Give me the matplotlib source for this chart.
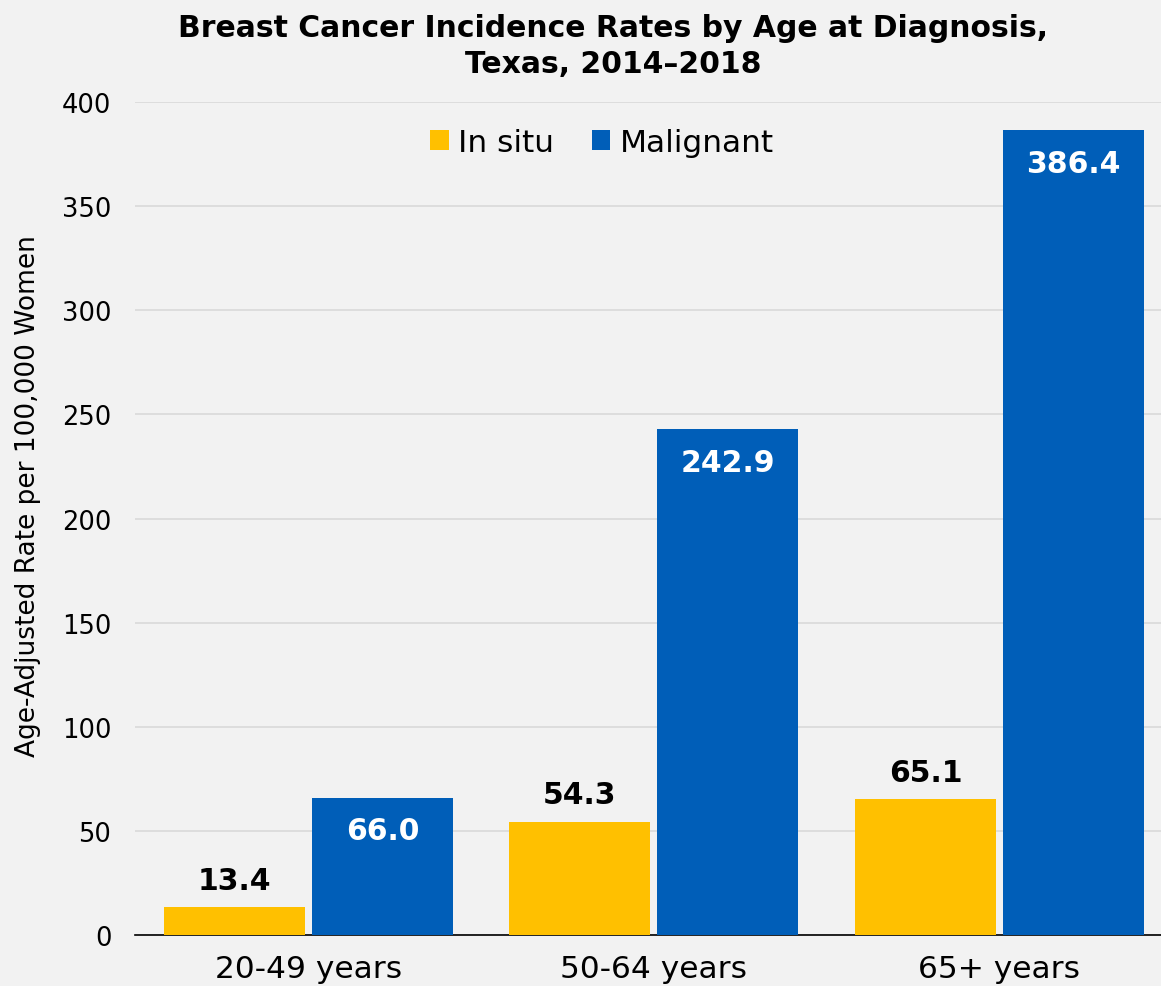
import matplotlib
matplotlib.use("Agg")
from matplotlib import pyplot as plt
import numpy as np

categories = ["20-49 years", "50-64 years", "65+ years"]
in_situ = [13.4, 54.3, 65.1]
malignant = [66.0, 242.9, 386.4]
series_names = ["In situ", "Malignant"]

yellow = "#FFC000"
blue = "#005EB8"
bg = "#F2F2F2"

plt.rcParams["font.family"] = "DejaVu Sans"

fig = plt.figure(figsize=(11.61, 9.87), dpi=100, facecolor=bg)
ax = fig.add_axes([0.1163, 0.0517, 0.8837, 0.8439], facecolor=bg)

x = np.arange(len(categories))
width = 0.408
offset = 0.214
b1 = ax.bar(x - offset, in_situ, width, color=yellow, label=series_names[0], zorder=3)
b2 = ax.bar(x + offset, malignant, width, color=blue, label=series_names[1], zorder=3)

for rect, v in zip(b1, in_situ):
    ax.text(rect.get_x() + rect.get_width() / 2, v + 6, f"{v:.1f}",
            ha="center", va="bottom", fontsize=21.5, fontweight="bold", color="black")
for rect, v in zip(b2, malignant):
    ax.text(rect.get_x() + rect.get_width() / 2, v - 9, f"{v:.1f}",
            ha="center", va="top", fontsize=21.5, fontweight="bold", color="white")

ax.set_xlim(-0.502, 2.468)
ax.set_ylim(0, 400)
ax.set_yticks(range(0, 401, 50))
ax.set_xticks(x)
ax.set_xticklabels(categories, fontsize=22.5)
ax.tick_params(axis="y", labelsize=18.5, length=0, pad=17)
ax.tick_params(axis="x", length=0, pad=14)
ax.yaxis.grid(True, color="#D9D9D9", linewidth=1.2, zorder=0)
ax.set_axisbelow(True)
for s in ["top", "right", "left"]:
    ax.spines[s].set_visible(False)
ax.spines["bottom"].set_color("black")
ax.spines["bottom"].set_linewidth(1.2)

ax.set_ylabel("Age-Adjusted Rate per 100,000 Women", fontsize=19)
ax.yaxis.set_label_coords(-0.092, 0.528)
fig.text(0.528, 0.986, "Breast Cancer Incidence Rates by Age at Diagnosis,\nTexas, 2014\u20132018",
         ha="center", va="top", fontsize=21.5, fontweight="bold", linespacing=1.3)

ax.legend(loc="upper center", bbox_to_anchor=(0.455, 1.003), ncol=2, frameon=False,
          fontsize=22.5, handlelength=0.6, handleheight=0.6, handletextpad=0.3,
          columnspacing=1.2)

fig.savefig("out.png", dpi=100, facecolor=bg)
